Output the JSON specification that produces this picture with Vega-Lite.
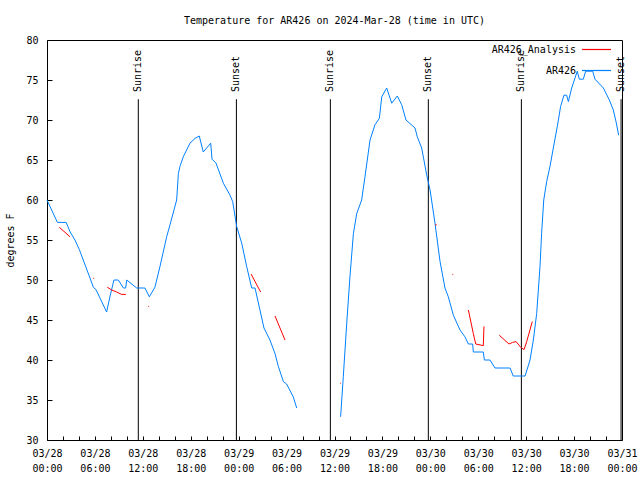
{
  "$schema": "https://vega.github.io/schema/vega-lite/v6.json",
  "autosize": {"type": "none"},
  "padding": {"left": 47, "top": 40, "right": 18, "bottom": 40},
  "width": 575,
  "height": 400,
  "background": "white",
  "config": {
    "view": {"stroke": "black", "strokeWidth": 1},
    "axis": {"labelFont": "DejaVu Sans Mono", "labelFontSize": 10, "labelColor": "black", "titleFont": "DejaVu Sans Mono", "titleFontSize": 10, "titleFontWeight": "normal", "titleColor": "black", "domainColor": "black", "tickColor": "black", "grid": false}
  },
  "title": {"text": "Temperature for AR426 on 2024-Mar-28 (time in UTC)", "font": "DejaVu Sans Mono", "fontSize": 10, "fontWeight": "normal", "color": "black", "anchor": "middle", "offset": 8},
  "datasets": {
    "events": [
      {"time": "2024-03-28T11:26:00Z", "label": "Sunrise"},
      {"time": "2024-03-28T23:43:00Z", "label": "Sunset"},
      {"time": "2024-03-29T11:29:00Z", "label": "Sunrise"},
      {"time": "2024-03-29T23:45:00Z", "label": "Sunset"},
      {"time": "2024-03-30T11:24:00Z", "label": "Sunrise"},
      {"time": "2024-03-30T23:53:00Z", "label": "Sunset"}
    ],
    "temps": [
      {"series": "AR426", "seg": "b1", "time": "2024-03-28T00:00:00Z", "temp": 60},
      {"series": "AR426", "seg": "b1", "time": "2024-03-28T01:18:00Z", "temp": 57.2},
      {"series": "AR426", "seg": "b1", "time": "2024-03-28T02:24:00Z", "temp": 57.2},
      {"series": "AR426", "seg": "b1", "time": "2024-03-28T02:54:00Z", "temp": 56.0},
      {"series": "AR426", "seg": "b1", "time": "2024-03-28T03:30:00Z", "temp": 55.0},
      {"series": "AR426", "seg": "b1", "time": "2024-03-28T04:03:00Z", "temp": 53.8},
      {"series": "AR426", "seg": "b1", "time": "2024-03-28T05:23:00Z", "temp": 50.25},
      {"series": "AR426", "seg": "b1", "time": "2024-03-28T05:48:00Z", "temp": 49.1},
      {"series": "AR426", "seg": "b1", "time": "2024-03-28T06:08:00Z", "temp": 48.8},
      {"series": "AR426", "seg": "b1", "time": "2024-03-28T07:28:00Z", "temp": 46.0},
      {"series": "AR426", "seg": "b1", "time": "2024-03-28T07:54:00Z", "temp": 48.0},
      {"series": "AR426", "seg": "b1", "time": "2024-03-28T08:23:00Z", "temp": 50.0},
      {"series": "AR426", "seg": "b1", "time": "2024-03-28T08:56:00Z", "temp": 50.0},
      {"series": "AR426", "seg": "b1", "time": "2024-03-28T09:34:00Z", "temp": 49.0},
      {"series": "AR426", "seg": "b1", "time": "2024-03-28T09:51:00Z", "temp": 49.0},
      {"series": "AR426", "seg": "b1", "time": "2024-03-28T09:59:00Z", "temp": 50.0},
      {"series": "AR426", "seg": "b1", "time": "2024-03-28T11:14:00Z", "temp": 49.0},
      {"series": "AR426", "seg": "b1", "time": "2024-03-28T12:16:00Z", "temp": 49.0},
      {"series": "AR426", "seg": "b1", "time": "2024-03-28T12:49:00Z", "temp": 47.9},
      {"series": "AR426", "seg": "b1", "time": "2024-03-28T13:31:00Z", "temp": 49.1},
      {"series": "AR426", "seg": "b1", "time": "2024-03-28T14:09:00Z", "temp": 51.7},
      {"series": "AR426", "seg": "b1", "time": "2024-03-28T14:59:00Z", "temp": 55.4},
      {"series": "AR426", "seg": "b1", "time": "2024-03-28T15:24:00Z", "temp": 56.9},
      {"series": "AR426", "seg": "b1", "time": "2024-03-28T16:14:00Z", "temp": 60.0},
      {"series": "AR426", "seg": "b1", "time": "2024-03-28T16:27:00Z", "temp": 63.3},
      {"series": "AR426", "seg": "b1", "time": "2024-03-28T16:39:00Z", "temp": 64.2},
      {"series": "AR426", "seg": "b1", "time": "2024-03-28T17:04:00Z", "temp": 65.4},
      {"series": "AR426", "seg": "b1", "time": "2024-03-28T17:54:00Z", "temp": 67.1},
      {"series": "AR426", "seg": "b1", "time": "2024-03-28T18:32:00Z", "temp": 67.7},
      {"series": "AR426", "seg": "b1", "time": "2024-03-28T19:04:00Z", "temp": 68.0},
      {"series": "AR426", "seg": "b1", "time": "2024-03-28T19:34:00Z", "temp": 66.0},
      {"series": "AR426", "seg": "b1", "time": "2024-03-28T20:30:00Z", "temp": 67.1},
      {"series": "AR426", "seg": "b1", "time": "2024-03-28T20:40:00Z", "temp": 65.1},
      {"series": "AR426", "seg": "b1", "time": "2024-03-28T21:10:00Z", "temp": 64.6},
      {"series": "AR426", "seg": "b1", "time": "2024-03-28T22:05:00Z", "temp": 62.1},
      {"series": "AR426", "seg": "b1", "time": "2024-03-28T22:55:00Z", "temp": 60.6},
      {"series": "AR426", "seg": "b1", "time": "2024-03-28T23:15:00Z", "temp": 59.8},
      {"series": "AR426", "seg": "b1", "time": "2024-03-28T23:45:00Z", "temp": 56.7},
      {"series": "AR426", "seg": "b1", "time": "2024-03-29T00:23:00Z", "temp": 54.6},
      {"series": "AR426", "seg": "b1", "time": "2024-03-29T01:00:00Z", "temp": 51.7},
      {"series": "AR426", "seg": "b1", "time": "2024-03-29T01:38:00Z", "temp": 49.0},
      {"series": "AR426", "seg": "b1", "time": "2024-03-29T02:03:00Z", "temp": 49.0},
      {"series": "AR426", "seg": "b1", "time": "2024-03-29T02:40:00Z", "temp": 46.25},
      {"series": "AR426", "seg": "b1", "time": "2024-03-29T03:10:00Z", "temp": 44.0},
      {"series": "AR426", "seg": "b1", "time": "2024-03-29T03:55:00Z", "temp": 42.5},
      {"series": "AR426", "seg": "b1", "time": "2024-03-29T04:33:00Z", "temp": 40.8},
      {"series": "AR426", "seg": "b1", "time": "2024-03-29T04:58:00Z", "temp": 39.2},
      {"series": "AR426", "seg": "b1", "time": "2024-03-29T05:36:00Z", "temp": 37.3},
      {"series": "AR426", "seg": "b1", "time": "2024-03-29T06:00:00Z", "temp": 37.0},
      {"series": "AR426", "seg": "b1", "time": "2024-03-29T06:50:00Z", "temp": 35.4},
      {"series": "AR426", "seg": "b1", "time": "2024-03-29T07:16:00Z", "temp": 34.0},
      {"series": "AR426", "seg": "b2", "time": "2024-03-29T12:46:00Z", "temp": 32.9},
      {"series": "AR426", "seg": "b2", "time": "2024-03-29T13:06:00Z", "temp": 37.9},
      {"series": "AR426", "seg": "b2", "time": "2024-03-29T13:32:00Z", "temp": 44.6},
      {"series": "AR426", "seg": "b2", "time": "2024-03-29T13:56:00Z", "temp": 50.4},
      {"series": "AR426", "seg": "b2", "time": "2024-03-29T14:22:00Z", "temp": 55.8},
      {"series": "AR426", "seg": "b2", "time": "2024-03-29T14:47:00Z", "temp": 58.3},
      {"series": "AR426", "seg": "b2", "time": "2024-03-29T15:24:00Z", "temp": 60.0},
      {"series": "AR426", "seg": "b2", "time": "2024-03-29T15:49:00Z", "temp": 62.9},
      {"series": "AR426", "seg": "b2", "time": "2024-03-29T16:27:00Z", "temp": 67.5},
      {"series": "AR426", "seg": "b2", "time": "2024-03-29T17:04:00Z", "temp": 69.4},
      {"series": "AR426", "seg": "b2", "time": "2024-03-29T17:37:00Z", "temp": 70.2},
      {"series": "AR426", "seg": "b2", "time": "2024-03-29T17:55:00Z", "temp": 72.9},
      {"series": "AR426", "seg": "b2", "time": "2024-03-29T18:32:00Z", "temp": 74.0},
      {"series": "AR426", "seg": "b2", "time": "2024-03-29T19:10:00Z", "temp": 72.1},
      {"series": "AR426", "seg": "b2", "time": "2024-03-29T19:52:00Z", "temp": 73.0},
      {"series": "AR426", "seg": "b2", "time": "2024-03-29T20:25:00Z", "temp": 71.9},
      {"series": "AR426", "seg": "b2", "time": "2024-03-29T20:57:00Z", "temp": 70.0},
      {"series": "AR426", "seg": "b2", "time": "2024-03-29T22:05:00Z", "temp": 69.0},
      {"series": "AR426", "seg": "b2", "time": "2024-03-29T22:22:00Z", "temp": 67.9},
      {"series": "AR426", "seg": "b2", "time": "2024-03-29T22:55:00Z", "temp": 66.5},
      {"series": "AR426", "seg": "b2", "time": "2024-03-29T23:33:00Z", "temp": 63.1},
      {"series": "AR426", "seg": "b2", "time": "2024-03-29T23:58:00Z", "temp": 61.25},
      {"series": "AR426", "seg": "b2", "time": "2024-03-30T00:35:00Z", "temp": 57.1},
      {"series": "AR426", "seg": "b2", "time": "2024-03-30T01:13:00Z", "temp": 52.3},
      {"series": "AR426", "seg": "b2", "time": "2024-03-30T01:50:00Z", "temp": 49.0},
      {"series": "AR426", "seg": "b2", "time": "2024-03-30T02:15:00Z", "temp": 47.9},
      {"series": "AR426", "seg": "b2", "time": "2024-03-30T02:53:00Z", "temp": 45.6},
      {"series": "AR426", "seg": "b2", "time": "2024-03-30T03:43:00Z", "temp": 43.75},
      {"series": "AR426", "seg": "b2", "time": "2024-03-30T04:20:00Z", "temp": 42.9},
      {"series": "AR426", "seg": "b2", "time": "2024-03-30T04:46:00Z", "temp": 42.0},
      {"series": "AR426", "seg": "b2", "time": "2024-03-30T05:18:00Z", "temp": 42.0},
      {"series": "AR426", "seg": "b2", "time": "2024-03-30T05:23:00Z", "temp": 41.0},
      {"series": "AR426", "seg": "b2", "time": "2024-03-30T06:38:00Z", "temp": 41.0},
      {"series": "AR426", "seg": "b2", "time": "2024-03-30T06:46:00Z", "temp": 40.0},
      {"series": "AR426", "seg": "b2", "time": "2024-03-30T07:28:00Z", "temp": 40.0},
      {"series": "AR426", "seg": "b2", "time": "2024-03-30T08:06:00Z", "temp": 39.0},
      {"series": "AR426", "seg": "b2", "time": "2024-03-30T09:59:00Z", "temp": 39.0},
      {"series": "AR426", "seg": "b2", "time": "2024-03-30T10:23:00Z", "temp": 38.0},
      {"series": "AR426", "seg": "b2", "time": "2024-03-30T11:52:00Z", "temp": 38.0},
      {"series": "AR426", "seg": "b2", "time": "2024-03-30T12:29:00Z", "temp": 40.0},
      {"series": "AR426", "seg": "b2", "time": "2024-03-30T12:54:00Z", "temp": 42.5},
      {"series": "AR426", "seg": "b2", "time": "2024-03-30T13:19:00Z", "temp": 45.8},
      {"series": "AR426", "seg": "b2", "time": "2024-03-30T13:44:00Z", "temp": 51.7},
      {"series": "AR426", "seg": "b2", "time": "2024-03-30T13:56:00Z", "temp": 55.8},
      {"series": "AR426", "seg": "b2", "time": "2024-03-30T14:12:00Z", "temp": 60.0},
      {"series": "AR426", "seg": "b2", "time": "2024-03-30T14:34:00Z", "temp": 62.3},
      {"series": "AR426", "seg": "b2", "time": "2024-03-30T14:59:00Z", "temp": 64.2},
      {"series": "AR426", "seg": "b2", "time": "2024-03-30T15:24:00Z", "temp": 66.5},
      {"series": "AR426", "seg": "b2", "time": "2024-03-30T15:54:00Z", "temp": 69.2},
      {"series": "AR426", "seg": "b2", "time": "2024-03-30T16:19:00Z", "temp": 71.7},
      {"series": "AR426", "seg": "b2", "time": "2024-03-30T16:44:00Z", "temp": 73.1},
      {"series": "AR426", "seg": "b2", "time": "2024-03-30T17:04:00Z", "temp": 73.1},
      {"series": "AR426", "seg": "b2", "time": "2024-03-30T17:17:00Z", "temp": 72.3},
      {"series": "AR426", "seg": "b2", "time": "2024-03-30T17:42:00Z", "temp": 74.0},
      {"series": "AR426", "seg": "b2", "time": "2024-03-30T18:24:00Z", "temp": 76.1},
      {"series": "AR426", "seg": "b2", "time": "2024-03-30T18:39:00Z", "temp": 75.1},
      {"series": "AR426", "seg": "b2", "time": "2024-03-30T19:09:00Z", "temp": 75.1},
      {"series": "AR426", "seg": "b2", "time": "2024-03-30T19:27:00Z", "temp": 76.1},
      {"series": "AR426", "seg": "b2", "time": "2024-03-30T20:20:00Z", "temp": 76.1},
      {"series": "AR426", "seg": "b2", "time": "2024-03-30T20:37:00Z", "temp": 75.1},
      {"series": "AR426", "seg": "b2", "time": "2024-03-30T21:40:00Z", "temp": 74.0},
      {"series": "AR426", "seg": "b2", "time": "2024-03-30T22:25:00Z", "temp": 72.5},
      {"series": "AR426", "seg": "b2", "time": "2024-03-30T22:55:00Z", "temp": 71.25},
      {"series": "AR426", "seg": "b2", "time": "2024-03-30T23:15:00Z", "temp": 69.8},
      {"series": "AR426", "seg": "b2", "time": "2024-03-30T23:35:00Z", "temp": 68.1},
      {"series": "AR426_Analysis", "seg": "r1", "time": "2024-03-28T01:32:00Z", "temp": 56.6},
      {"series": "AR426_Analysis", "seg": "r1", "time": "2024-03-28T02:53:00Z", "temp": 55.4},
      {"series": "AR426_Analysis", "seg": "r2", "time": "2024-03-28T05:48:00Z", "temp": 50.2},
      {"series": "AR426_Analysis", "seg": "r2", "time": "2024-03-28T05:54:00Z", "temp": 50.2},
      {"series": "AR426_Analysis", "seg": "r3", "time": "2024-03-28T07:33:00Z", "temp": 49.1},
      {"series": "AR426_Analysis", "seg": "r3", "time": "2024-03-28T08:06:00Z", "temp": 48.75},
      {"series": "AR426_Analysis", "seg": "r3", "time": "2024-03-28T08:43:00Z", "temp": 48.5},
      {"series": "AR426_Analysis", "seg": "r3", "time": "2024-03-28T09:21:00Z", "temp": 48.2},
      {"series": "AR426_Analysis", "seg": "r3", "time": "2024-03-28T09:53:00Z", "temp": 48.2},
      {"series": "AR426_Analysis", "seg": "r4", "time": "2024-03-28T12:41:00Z", "temp": 46.7},
      {"series": "AR426_Analysis", "seg": "r4", "time": "2024-03-28T12:47:00Z", "temp": 46.7},
      {"series": "AR426_Analysis", "seg": "r5", "time": "2024-03-29T01:33:00Z", "temp": 50.75},
      {"series": "AR426_Analysis", "seg": "r5", "time": "2024-03-29T02:45:00Z", "temp": 48.5},
      {"series": "AR426_Analysis", "seg": "r6", "time": "2024-03-29T04:33:00Z", "temp": 45.5},
      {"series": "AR426_Analysis", "seg": "r6", "time": "2024-03-29T05:48:00Z", "temp": 42.5},
      {"series": "AR426_Analysis", "seg": "r7", "time": "2024-03-29T12:41:00Z", "temp": 37.1},
      {"series": "AR426_Analysis", "seg": "r7", "time": "2024-03-29T12:47:00Z", "temp": 37.1},
      {"series": "AR426_Analysis", "seg": "r8", "time": "2024-03-30T00:36:00Z", "temp": 56.9},
      {"series": "AR426_Analysis", "seg": "r8", "time": "2024-03-30T00:48:00Z", "temp": 56.9},
      {"series": "AR426_Analysis", "seg": "r9", "time": "2024-03-30T02:46:00Z", "temp": 50.7},
      {"series": "AR426_Analysis", "seg": "r9", "time": "2024-03-30T02:52:00Z", "temp": 50.7},
      {"series": "AR426_Analysis", "seg": "r10", "time": "2024-03-30T04:46:00Z", "temp": 46.25},
      {"series": "AR426_Analysis", "seg": "r10", "time": "2024-03-30T05:23:00Z", "temp": 43.3},
      {"series": "AR426_Analysis", "seg": "r10", "time": "2024-03-30T05:41:00Z", "temp": 42.0},
      {"series": "AR426_Analysis", "seg": "r10", "time": "2024-03-30T06:38:00Z", "temp": 41.8},
      {"series": "AR426_Analysis", "seg": "r10", "time": "2024-03-30T06:43:00Z", "temp": 44.2},
      {"series": "AR426_Analysis", "seg": "r11", "time": "2024-03-30T08:38:00Z", "temp": 43.1},
      {"series": "AR426_Analysis", "seg": "r11", "time": "2024-03-30T09:51:00Z", "temp": 42.0},
      {"series": "AR426_Analysis", "seg": "r11", "time": "2024-03-30T10:18:00Z", "temp": 42.2},
      {"series": "AR426_Analysis", "seg": "r11", "time": "2024-03-30T10:44:00Z", "temp": 42.3},
      {"series": "AR426_Analysis", "seg": "r11", "time": "2024-03-30T11:14:00Z", "temp": 41.7},
      {"series": "AR426_Analysis", "seg": "r11", "time": "2024-03-30T11:26:00Z", "temp": 41.5},
      {"series": "AR426_Analysis", "seg": "r11", "time": "2024-03-30T11:44:00Z", "temp": 41.3},
      {"series": "AR426_Analysis", "seg": "r11", "time": "2024-03-30T12:04:00Z", "temp": 42.3},
      {"series": "AR426_Analysis", "seg": "r11", "time": "2024-03-30T12:46:00Z", "temp": 44.8}
    ]
  },
  "encoding": {
    "x": {"field": "time", "type": "temporal",
          "scale": {"type": "utc", "domain": [{"year": 2024, "month": 3, "date": 28, "hours": 0, "utc": true}, {"year": 2024, "month": 3, "date": 31, "hours": 0, "utc": true}]},
          "axis": {"title": null, "domain": false, "tickSize": -4,
                   "values": [1711584000000, 1711591200000, 1711598400000, 1711605600000, 1711612800000, 1711620000000, 1711627200000, 1711634400000, 1711641600000, 1711648800000, 1711656000000, 1711663200000, 1711670400000, 1711677600000, 1711684800000, 1711692000000, 1711699200000, 1711706400000, 1711713600000, 1711720800000, 1711728000000, 1711735200000, 1711742400000, 1711749600000, 1711756800000, 1711764000000, 1711771200000, 1711778400000, 1711785600000, 1711792800000, 1711800000000, 1711807200000, 1711814400000, 1711821600000, 1711828800000, 1711836000000, 1711843200000],
                   "labelExpr": "utchours(datum.value) % 6 === 0 ? [utcFormat(datum.value, '%m/%d'), utcFormat(datum.value, '%H:%M')] : ''",
                   "labelLineHeight": 15, "labelPadding": 12, "labelBaseline": "top", "labelOverlap": false, "labelFlush": false}}
  },
  "layer": [
    {
      "data": {"name": "events"},
      "mark": {"type": "rule", "color": "black", "strokeWidth": 1},
      "encoding": {
        "y": {"datum": 72.6, "type": "quantitative", "scale": {"domain": [30, 80], "zero": false},
              "axis": {"title": "degrees F", "domain": false, "values": [30, 35, 40, 45, 50, 55, 60, 65, 70, 75, 80], "tickSize": -5, "labelPadding": 14, "titleX": -37, "titleY": 200, "titleAngle": 270, "titleAlign": "center", "titleBaseline": "middle"}},
        "y2": {"datum": 30}
      }
    },
    {
      "data": {"name": "events"},
      "mark": {"type": "text", "angle": 270, "align": "left", "baseline": "middle", "fontSize": 10, "font": "DejaVu Sans Mono", "color": "black"},
      "encoding": {
        "y": {"datum": 73.5, "type": "quantitative", "scale": {"domain": [30, 80], "zero": false},
              "axis": {"title": "degrees F", "domain": false, "values": [30, 35, 40, 45, 50, 55, 60, 65, 70, 75, 80], "tickSize": -5, "labelPadding": 14, "titleX": -37, "titleY": 200, "titleAngle": 270, "titleAlign": "center", "titleBaseline": "middle"}},
        "text": {"field": "label"}
      }
    },
    {
      "data": {"name": "temps"},
      "mark": {"type": "line", "strokeWidth": 1},
      "encoding": {
        "y": {"field": "temp", "type": "quantitative", "scale": {"domain": [30, 80], "zero": false},
              "axis": {"title": "degrees F", "domain": false, "values": [30, 35, 40, 45, 50, 55, 60, 65, 70, 75, 80], "tickSize": -5, "labelPadding": 14, "titleX": -37, "titleY": 200, "titleAngle": 270, "titleAlign": "center", "titleBaseline": "middle"}},
        "color": {"field": "series", "type": "nominal",
                  "scale": {"domain": ["AR426_Analysis", "AR426"], "range": ["#ff0000", "#0080ff"]},
                  "legend": {"orient": "none", "legendX": 534, "legendY": -6, "title": null, "symbolType": "stroke", "symbolSize": 841, "symbolStrokeWidth": 1.2, "labelFontSize": 10, "labelFont": "DejaVu Sans Mono", "labelColor": "black", "labelAlign": "right", "labelOffset": -36, "rowPadding": -8, "padding": 0}},
        "detail": {"field": "seg"}
      }
    }
  ]
}
